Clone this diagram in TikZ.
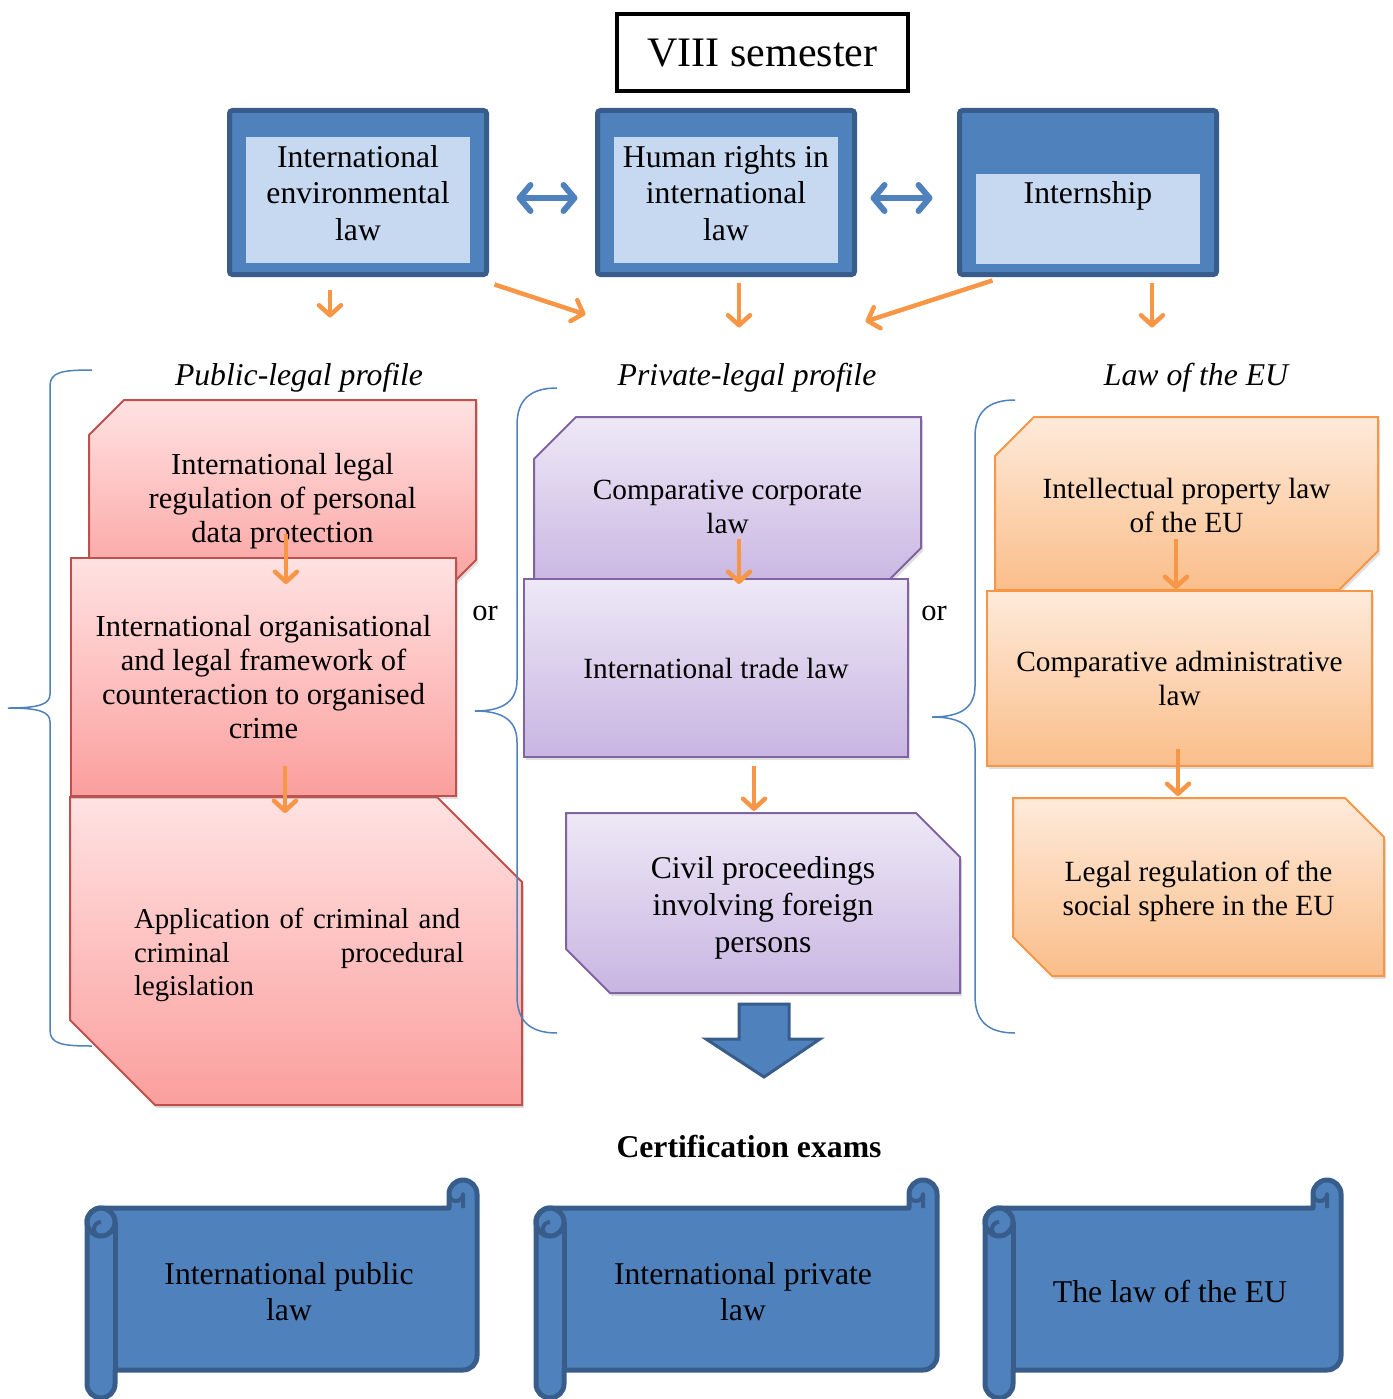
\documentclass[tikz,border=0pt]{standalone}
\usepackage{fontspec}
\setmainfont{Liberation Serif}
\usetikzlibrary{arrows.meta,shadows}

\definecolor{bmain}{HTML}{4F81BD}
\definecolor{bdark}{HTML}{385D8A}
\definecolor{blight}{HTML}{C6D9F1}
\definecolor{rline}{HTML}{C0504D}
\definecolor{rtop}{HTML}{FFE2E2}
\definecolor{rbot}{HTML}{FA9F9D}
\definecolor{pline}{HTML}{8064A2}
\definecolor{ptop}{HTML}{EEE8F6}
\definecolor{pbot}{HTML}{C8B5E2}
\definecolor{oline}{HTML}{F79646}
\definecolor{otop}{HTML}{FEEADA}
\definecolor{obot}{HTML}{FABE8A}

\newcommand{\bigtxt}{\fontsize{31.7}{36.5}\selectfont}
\newcommand{\redtxt}{\fontsize{30.5}{34}\selectfont}
\newcommand{\boxtxt}{\fontsize{29.3}{34}\selectfont}

\begin{document}
\begin{tikzpicture}[x=1pt,y=-1pt,
    semframe/.style={draw=bdark,fill=bmain,line width=5pt,rounded corners=3pt,minimum width=257pt,minimum height=164pt},
    seminner/.style={fill=blight,minimum width=224pt},
    txt/.style={font=\bigtxt,align=center,inner sep=0pt},
    subj/.style={line width=2pt,drop shadow={shadow xshift=2pt,shadow yshift=-3pt,opacity=.25}},
    pubbox/.style={subj,draw=rline,top color=rtop,bottom color=rbot},
    privbox/.style={subj,draw=pline,top color=ptop,bottom color=pbot},
    eubox/.style={subj,draw=oline,top color=otop,bottom color=obot},
    oarrow/.style={draw=oline,line width=4.5pt,-{Straight Barb[round,length=10pt,width=22pt]}},
    barrow/.style={draw=bmain,line width=6pt,{Straight Barb[round,length=11pt,width=26pt]}-{Straight Barb[round,length=11pt,width=26pt]}},
    brace/.style={draw=bmain,line width=1.5pt},
    scroll/.style={draw=bdark,fill=bmain,line width=5pt,line join=round}]
\useasboundingbox (0,0) rectangle (1392,1399);

% semester and the three courses
\node[draw=black,line width=4pt,minimum width=291pt,minimum height=77pt,inner sep=0pt,font=\fontsize{42}{48}\selectfont] (sem) at (762.5,53) {VIII semester};
\node[semframe] (env) at (358,192.5) {};
\node[seminner,minimum height=126pt] (envin) at (358,200) {};
\node[txt] (envt) at (358,193) {International\\environmental\\law};
\node[semframe] (hum) at (726,192.5) {};
\node[seminner,minimum height=126pt] (humin) at (726,200) {};
\node[txt] (humt) at (726,193) {Human rights in\\international\\law};
\node[semframe] (intb) at (1088,192.5) {};
\node[seminner,minimum height=90pt] (intin) at (1088,219) {};
\node[txt] (intt) at (1088,196) {Internship};

\node[txt,font=\bigtxt\itshape] (pub) at (299,378) {Public-legal profile};
\node[txt,font=\bigtxt\itshape] (priv) at (747,378) {Private-legal profile};
\node[txt,font=\bigtxt\itshape] (eu) at (1196,378) {Law of the EU};

% public-legal profile
\path[pubbox] (124,400) -- (476,400) -- (476,560) -- (441,595) -- (89,595) -- (89,435) -- cycle;
\node[txt,font=\redtxt] (datap) at (282.5,501.5) {International legal\\regulation of personal\\data protection};
\path[pubbox] (70,797) -- (437,797) -- (522,882) -- (522,1105) -- (155,1105) -- (70,1020) -- cycle;
\node[txt,font=\fontsize{28.8}{33.5}\selectfont,text width=330pt,align=left] (crim) at (299,955) {Application of criminal and\\criminal\hfill procedural\\legislation};
\node[pubbox,txt,font=\redtxt,minimum width=385pt,minimum height=238pt] (orgcrime) at (263.5,677) {International organisational\\and legal framework of\\counteraction to organised\\crime};

% private-legal profile
\path[privbox] (576,417) -- (921,417) -- (921,548) -- (879,590) -- (534,590) -- (534,459) -- cycle;
\node[txt,font=\boxtxt] (corp) at (727.5,507) {Comparative corporate\\law};
\node[privbox,txt,font=\boxtxt,minimum width=384pt,minimum height=178pt] (trade) at (716,668) {International trade law};
\path[privbox] (566,813) -- (916,813) -- (960,857) -- (960,993) -- (610,993) -- (566,949) -- cycle;
\node[txt,font=\fontsize{31.7}{37}\selectfont] (civil) at (763,908) {Civil proceedings\\involving foreign\\persons};

% law of the EU
\path[eubox] (1034,417) -- (1378,417) -- (1378,551) -- (1339,590) -- (995,590) -- (995,456) -- cycle;
\node[txt,font=\boxtxt] (ipl) at (1186.5,505) {Intellectual property law\\of the EU};
\node[eubox,txt,font=\boxtxt,minimum width=385pt,minimum height=175pt] (admin) at (1179.5,678.5) {Comparative administrative\\law};
\path[eubox] (1013,798) -- (1345,798) -- (1384,837) -- (1384,976) -- (1052,976) -- (1013,937) -- cycle;
\node[txt,font=\boxtxt] (social) at (1198.5,891) {Legal regulation of the\\social sphere in the EU};

% braces
\draw[brace] (92,370) .. controls (62,370) and (50,372) .. (50,386) -- (50,694) .. controls (50,704) and (40,708) .. (8,708) .. controls (40,708) and (50,712) .. (50,722) -- (50,1030) .. controls (50,1044) and (62,1046) .. (92,1046);
\draw[brace] (557,388) .. controls (530,388) and (517,400) .. (517,425) -- (517,680) .. controls (517,700) and (505,711) .. (475,711) .. controls (505,711) and (517,722) .. (517,742) -- (517,996) .. controls (517,1021) and (530,1033) .. (557,1033);
\draw[brace] (1015,400) .. controls (988,400) and (975,412) .. (975,437) -- (975,686) .. controls (975,706) and (963,717) .. (932,717) .. controls (963,717) and (975,728) .. (975,748) -- (975,996) .. controls (975,1021) and (988,1033) .. (1015,1033);
\node[txt,font=\redtxt] (or1) at (485,613) {or};
\node[txt,font=\redtxt] (or2) at (934,613) {or};

% arrows
\draw[barrow] ([shift={(27.5,5.5)}]env.east) -- ([shift={(-17.5,5.5)}]hum.west);
\draw[barrow] ([shift={(13.5,5.5)}]hum.east) -- ([shift={(-24.5,5.5)}]intb.west);
\draw[oarrow] ([shift={(-28,12.5)}]env.south) -- ++(0,28);
\draw[oarrow] ([shift={(5.5,7.5)}]env.south east) -- ++(91,30);
\draw[oarrow] ([shift={(13,5.5)}]hum.south) -- ++(0,45);
\draw[oarrow] ([shift={(35.5,3.5)}]intb.south west) -- ++(-127,41);
\draw[oarrow] ([shift={(64,5.5)}]intb.south) -- ++(0,45);
\draw[oarrow] ([shift={(22.5,-23)}]orgcrime.north) -- ++(0,50);
\draw[oarrow] ([shift={(21.5,-31)}]orgcrime.south) -- ++(0,47);
\draw[oarrow] ([shift={(23,-39)}]trade.north) -- ++(0,45);
\draw[oarrow] ([shift={(38,8)}]trade.south) -- ++(0,45);
\draw[oarrow] ([shift={(-3.5,-51)}]admin.north) -- ++(0,50);
\draw[oarrow] ([shift={(-1.5,-18)}]admin.south) -- ++(0,47);

% exams
\draw[draw=bdark,fill=bmain,line width=3pt] (739,1004) -- (789,1004) -- (789,1039) -- (820,1039) -- (764,1077) -- (706,1039) -- (739,1039) -- cycle;
\node[txt,font=\bigtxt\bfseries] (cert) at (749,1146) {Certification exams};
\foreach \l/\r in {87/477,536/937,985/1341}{
  \draw[scroll] (\l,1384) -- (\l,1222) arc (180:270:14) -- (\r-28,1208) -- (\r-28,1194) arc (180:360:14) -- (\r,1356) arc (0:90:14) -- (\l+28,1370) -- (\l+28,1384) arc (0:180:14) -- cycle;
  \draw[scroll,fill=none] (\l+28,1222) -- (\l+28,1370);
  \draw[scroll,fill=none] (\l+14,1222) circle (14);
  \draw[scroll,fill=none,line width=4pt] (\l+14,1236) arc (90:270:7);
  \draw[scroll,fill=none,line width=4pt] (\r-14,1208) -- (\r-14,1194) arc (0:180:7);
}
\node[txt] (pil) at (289,1291.5) {International public\\law};
\node[txt] (pvl) at (743,1291.5) {International private\\law};
\node[txt] (eul) at (1170,1291.5) {The law of the EU};
\end{tikzpicture}
\end{document}
